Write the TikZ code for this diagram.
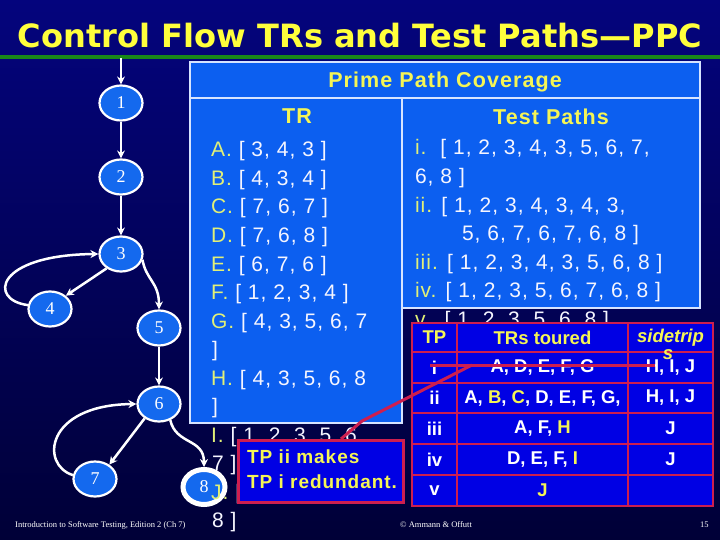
\documentclass[tikz,border=0pt]{standalone}
\usepackage{graphicx}
\usepackage{fontspec}
\setmainfont{Liberation Sans}
\newfontfamily\bodyfont[LetterSpace=5]{Liberation Sans}
\newfontfamily\titlefont{DejaVu Sans}
\newfontfamily\seriffont{Liberation Serif}
\usetikzlibrary{shapes.geometric,arrows.meta}
\definecolor{bgtop}{RGB}{4,4,125}
\definecolor{bgbot}{RGB}{0,0,55}
\definecolor{boxblue}{RGB}{12,95,240}
\definecolor{nodeblue}{RGB}{20,105,238}
\definecolor{tblblue}{RGB}{0,0,228}
\definecolor{redline}{RGB}{205,30,80}
\definecolor{ylw}{RGB}{245,245,85}
\definecolor{ttlylw}{RGB}{255,255,60}
\definecolor{pale}{RGB}{225,240,120}
\definecolor{ttlgreen}{RGB}{25,135,25}
\definecolor{panelborder}{RGB}{215,228,255}
\definecolor{txtwhite}{RGB}{245,245,255}
\newcommand{\pl}[1]{\textcolor{pale}{#1}}
\newcommand{\yl}[1]{\textcolor{ylw}{#1}}
\begin{document}
\begin{tikzpicture}[x=1pt,y=-1pt,
  gnode/.style={ellipse, draw=white, line width=2.2, fill=nodeblue, minimum width=43, minimum height=35, inner sep=0, text=white, font=\seriffont\fontsize{18}{18}\selectfont},
  gfinal/.style={gnode, line width=5, minimum width=42, minimum height=35},
  gedge/.style={white, line width=2.5, -{Stealth[length=8pt,width=8pt]}},
  panel/.style={draw=panelborder, line width=1.5, fill=boxblue, inner sep=0, outer sep=0, anchor=north west},
  trtxt/.style={anchor=base west, inner sep=0, outer sep=0, text=txtwhite, font=\bodyfont\fontsize{21}{21}\selectfont},
  hd/.style={anchor=base, inner sep=0, outer sep=0, text=ylw, font=\bodyfont\bfseries\fontsize{21.5}{21.5}\selectfont},
  cell/.style={draw=redline, line width=2.5, fill=tblblue, inner sep=0, outer sep=0, anchor=north west, text=white, font=\bfseries\fontsize{18.5}{18.5}\selectfont},
  redln/.style={draw=redline, line width=3},
  foot/.style={anchor=base west, inner sep=0, text=white, font=\seriffont\fontsize{8.5}{9}\selectfont}
]
\useasboundingbox (0,0) rectangle (720,540);
\shade[top color=bgtop,bottom color=bgbot] (0,0) rectangle (720,540);

% title
\node[anchor=base, inner sep=0, text=ttlylw] (title) at (360,48)
  {\resizebox{684pt}{!}{\titlefont\bfseries\fontsize{32}{32}\selectfont Control Flow TRs and Test Paths—PPC}};
\draw[ttlgreen, line width=4] (0,57) -- (720,57);

% panels
\node[panel, minimum width=510, minimum height=36] (hdr) at (190,62) {};
\node[panel, minimum width=212, minimum height=325] (trbox) at (190,98) {};
\node[panel, minimum width=298, minimum height=210] (tpbox) at (402,98) {};
\node[hd] (ptitle) at (445,88) {Prime Path Coverage};
\node[hd] (trhead) at (297,124) {TR};
\node[hd] (tphead) at (551,125) {Test Paths};

% graph
\coordinate (start) at (121,58);
\node[gnode] (n1) at (121,103) {1};
\node[gnode] (n2) at (121,177) {2};
\node[gnode] (n3) at (121,254) {3};
\node[gnode] (n4) at (50,309) {4};
\node[gnode] (n5) at (159,328) {5};
\node[gnode] (n6) at (159,404) {6};
\node[gnode] (n7) at (95,479) {7};
\node[gfinal] (n8) at (204,487) {8};
\draw[gedge] (start) -- (n1);
\draw[gedge] (n1) -- (n2);
\draw[gedge] (n2) -- (n3);
\draw[gedge] (n3.225) -- (n4.40);
\draw[gedge] (n4.170) .. controls (-12,300) and (-5,255) .. (n3.west);
\draw[gedge] (n3.-15) .. controls (146,280) and (159,282) .. (n5.north);
\draw[gedge] (n5) -- (n6);
\draw[gedge] (n6.225) -- (n7.45);
\draw[gedge] (n7.170) .. controls (40,465) and (45,405) .. (n6.west);
\draw[gedge] (n6.-55) .. controls (176,445) and (204,438) .. (n8.north);

% TR column
\node[trtxt] (tA) at (211,157) {\pl{A.} [ 3, 4, 3 ]};
\node[trtxt] (tB) at (211,185.5) {\pl{B.} [ 4, 3, 4 ]};
\node[trtxt] (tC) at (211,214) {\pl{C.} [ 7, 6, 7 ]};
\node[trtxt] (tD) at (211,242.5) {\pl{D.} [ 7, 6, 8 ]};
\node[trtxt] (tE) at (211,271) {\pl{E.} [ 6, 7, 6 ]};
\node[trtxt] (tF) at (211,299.5) {\pl{F.} [ 1, 2, 3, 4 ]};
\node[trtxt] (tG) at (211,328) {\pl{G.} [ 4, 3, 5, 6, 7};
\node[trtxt] (tG2) at (212,356.5) {]};
\node[trtxt] (tH) at (211,385) {\pl{H.} [ 4, 3, 5, 6, 8};
\node[trtxt] (tH2) at (212,413.5) {]};
\node[trtxt] (tI) at (211,442) {\pl{I.} [ 1, 2, 3, 5, 6,};
\node[trtxt] (tI2) at (212,470.5) {7 ]};
\node[trtxt] (tJ) at (211,499) {\pl{J.} [ 1, 2, 3, 5, 6,};
\node[trtxt] (tJ2) at (212,527) {8 ]};

% Test paths column
\node[trtxt] (p1) at (415,155) {\pl{i.}~~[ 1, 2, 3, 4, 3, 5, 6, 7,};
\node[trtxt] (p1b) at (415,183.5) {6, 8 ]};
\node[trtxt] (p2) at (415,212) {\pl{ii.} [ 1, 2, 3, 4, 3, 4, 3,};
\node[trtxt] (p2b) at (462,240.5) {5, 6, 7, 6, 7, 6, 8 ]};
\node[trtxt] (p3) at (415,269) {\pl{iii.} [ 1, 2, 3, 4, 3, 5, 6, 8 ]};
\node[trtxt] (p4) at (415,297.5) {\pl{iv.} [ 1, 2, 3, 5, 6, 7, 6, 8 ]};
\node[trtxt] (p5) at (415,326) {\pl{v.}~~[ 1, 2, 3, 5, 6, 8 ]};

% table
\node[cell, minimum width=45, minimum height=29] (h1) at (412,323) {\yl{TP}};
\node[cell, minimum width=171, minimum height=29] (h2) at (457,323) {\yl{TRs toured}};
\node[cell, minimum width=85, minimum height=29] (h3) at (628,323) {\yl{\itshape sidetrip}};
\node[cell, minimum width=45, minimum height=31] (a1) at (412,352) {i};
\node[cell, minimum width=171, minimum height=31] (a2) at (457,352) {A, D, E, F, G};
\node[cell, minimum width=85, minimum height=31] (a3) at (628,352) {H, I, J};
\node[cell, minimum width=45, minimum height=30] (b1) at (412,383) {ii};
\node[cell, minimum width=171, minimum height=30] (b2) at (457,383) {A, \yl{B}, \yl{C}, D, E, F, G,};
\node[cell, minimum width=85, minimum height=30] (b3) at (628,383) {H, I, J};
\node[cell, minimum width=45, minimum height=31] (c1) at (412,413) {iii};
\node[cell, minimum width=171, minimum height=31] (c2) at (457,413) {A, F, \yl{H}};
\node[cell, minimum width=85, minimum height=31] (c3) at (628,413) {J};
\node[cell, minimum width=45, minimum height=31] (d1) at (412,444) {iv};
\node[cell, minimum width=171, minimum height=31] (d2) at (457,444) {D, E, F, \yl{I}};
\node[cell, minimum width=85, minimum height=31] (d3) at (628,444) {J};
\node[cell, minimum width=45, minimum height=31] (e1) at (412,475) {v};
\node[cell, minimum width=171, minimum height=31] (e2) at (457,475) {\yl{J}};
\node[cell, minimum width=85, minimum height=31] (e3) at (628,475) {};
\node[inner sep=0, text=ylw, font=\bfseries\itshape\fontsize{18.5}{18.5}\selectfont] (hs) at (668,355) {s};

% callout
\node[draw=redline, line width=3, fill=tblblue, inner sep=0, outer sep=0, anchor=north west, minimum width=165, minimum height=62] (callout) at (238,440) {};
\node[anchor=base west, inner sep=0, text=ylw, font=\bodyfont\bfseries\fontsize{19}{19}\selectfont] (ct1) at (247,463) {TP ii makes};
\node[anchor=base west, inner sep=0, text=ylw, font=\bodyfont\bfseries\fontsize{19}{19}\selectfont] (ct2) at (247,488) {TP i redundant.};
\coordinate (k0) at (341,439);
\coordinate (k1) at (362,421);
\coordinate (k2) at (472,365);
\coordinate (s1) at (430,365);
\coordinate (s2) at (655,365);
\draw[redln] (k0) -- (k1) -- (k2);
\draw[redln] (s1) -- (s2);

% footer
\node[foot] (f1) at (15,527) {Introduction to Software Testing, Edition 2 (Ch 7)};
\node[foot] (f2) at (400,527) {© Ammann \& Offutt};
\node[foot] (f3) at (700,527) {15};
\end{tikzpicture}
\end{document}
